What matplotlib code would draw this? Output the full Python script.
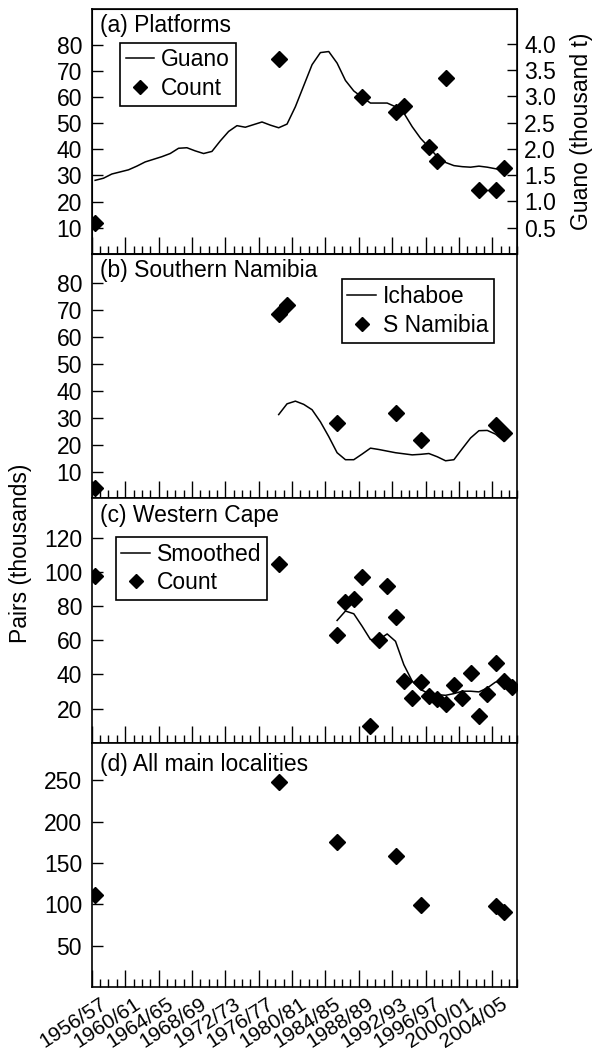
import numpy as np
import matplotlib
matplotlib.use("Agg")
import matplotlib.pyplot as plt
from matplotlib.ticker import MultipleLocator, FixedLocator
import matplotlib.transforms as mtransforms

plt.rcParams['font.family'] = ['Liberation Sans', 'DejaVu Sans']
plt.rcParams['font.size'] = 16.5

# season start years (1956 -> 1956/57)
guano_years = list(range(1956, 2006))
guano_kt = [1.40, 1.44, 1.52, 1.56, 1.60, 1.67, 1.75, 1.80, 1.85, 1.91,
            2.01, 2.02, 1.96, 1.91, 1.95, 2.15, 2.33, 2.44, 2.41, 2.46,
            2.51, 2.45, 2.40, 2.47, 2.80, 3.20, 3.60, 3.83, 3.85, 3.63,
            3.30, 3.10, 2.98, 2.87, 2.87, 2.87, 2.80, 2.68, 2.42, 2.20,
            2.03, 1.85, 1.74, 1.68, 1.66, 1.65, 1.67, 1.65, 1.62, 1.60]
plat_years = [1956, 1978, 1988, 1992, 1993, 1996, 1997, 1998, 2002, 2004, 2005]
plat_count = [11.8, 74.5, 59.9, 54.1, 56.7, 40.8, 35.7, 67.3, 24.6, 24.6, 32.9]

ich_years = list(range(1978, 2006))
ich_pairs = [31.2, 35.2, 36.2, 35.0, 33.0, 28.5, 23.0, 17.0, 14.4, 14.4,
             16.5, 18.7, 18.2, 17.6, 17.0, 16.6, 16.2, 16.4, 16.7, 15.5,
             14.0, 14.4, 18.5, 22.5, 25.2, 25.3, 23.9, 21.2]
snam_years = [1956, 1978, 1979, 1985, 1992, 1995, 2004, 2005]
snam_count = [3.8, 68.8, 71.9, 27.9, 31.8, 21.7, 27.4, 24.3]

wc_years = [1956, 1978, 1985, 1986, 1987, 1988, 1989, 1990, 1991, 1992,
            1993, 1994, 1995, 1996, 1997, 1998, 1999, 2000, 2001, 2002,
            2003, 2004, 2005, 2006]
wc_count = [97.8, 104.7, 62.9, 82.5, 84.3, 97.1, 9.6, 60.4, 92.0, 73.5,
            36.1, 26.2, 35.6, 27.2, 25.6, 22.7, 34.1, 26.2, 40.6, 15.5,
            28.6, 46.8, 36.1, 32.7]
smooth_years = list(range(1985, 2007))
smooth_pairs = [71.6, 77.1, 75.5, 68.2, 60.4, 60.4, 63.7, 59.4, 45.7, 36.1,
                31.2, 28.8, 28.2, 27.8, 28.8, 30.2, 30.2, 29.8, 32.1, 35.6,
                36.1, 34.5]

all_years = [1956, 1978, 1985, 1992, 1995, 2004, 2005]
all_count = [111.3, 247.5, 175.2, 158.0, 99.6, 98.4, 91.0]

tick_years = list(range(1956, 2005, 4))
tick_labels = ["%d/%02d" % (y, (y + 1) % 100) for y in tick_years]

OFF = 0.4  # season plotted a bit after its start year


def xs(years):
    return np.array(years) + OFF


fig = plt.figure(figsize=(5.96, 10.53), dpi=100)
fig.subplots_adjust(left=0.154, right=0.868, top=0.991, bottom=0.0624, hspace=0)
axes = fig.subplots(4, 1, sharex=True)

mk = dict(marker='D', color='black', linestyle='none', markersize=8)
ln = dict(color='black', linewidth=1.1)
leg_kw = dict(loc='upper left', borderaxespad=0, fancybox=False, edgecolor='black',
              framealpha=1, handlelength=1.25, handletextpad=0.3, borderpad=0.25,
              labelspacing=0.25, markerscale=0.9)

for ax in axes:
    ax.set_xlim(1956, 2007)
    ax.xaxis.set_major_locator(FixedLocator(tick_years))
    ax.xaxis.set_minor_locator(MultipleLocator(1))
    ax.tick_params(axis='x', which='major', direction='in', length=12, width=1, pad=5)
    ax.tick_params(axis='x', which='minor', direction='in', length=6, width=1)
    ax.tick_params(axis='y', which='major', direction='in', length=8, width=1, pad=7)
    for s in ax.spines.values():
        s.set_linewidth(1.2)

# (a) Platforms
ax = axes[0]
ax2 = ax.twinx()
l1, = ax2.plot(xs(guano_years), guano_kt, label='Guano', **ln)
p1, = ax.plot(xs(plat_years), plat_count, label='Count', **mk)
ax.set_ylim(0, 93.5)
ax2.set_ylim(0, 4.65)
ax.yaxis.set_major_locator(FixedLocator(range(10, 90, 10)))
ax2.yaxis.set_major_locator(FixedLocator(np.arange(0.5, 4.01, 0.5)))
ax2.yaxis.set_major_formatter(plt.FuncFormatter(lambda v, p: "%.1f" % v))
ax2.tick_params(axis='y', direction='in', length=7, width=1, pad=5)
ax2.set_ylabel('Guano (thousand t)', labelpad=10)
ax.text(0.02, 0.935, '(a) Platforms', transform=ax.transAxes, va='center', ha='left')
ax.legend([l1, p1], ['Guano', 'Count'], bbox_to_anchor=(0.066, 0.864),
          **leg_kw).get_frame().set_linewidth(1.2)

# (b) Southern Namibia
ax = axes[1]
ax.plot(xs(ich_years), ich_pairs, label='Ichaboe', **ln)
ax.plot(xs(snam_years), snam_count, label='S Namibia', **mk)
ax.set_ylim(0, 91)
ax.yaxis.set_major_locator(FixedLocator(range(10, 90, 10)))
ax.text(0.02, 0.932, '(b) Southern Namibia', transform=ax.transAxes, va='center', ha='left')
ax.legend(bbox_to_anchor=(0.587, 0.896), **leg_kw).get_frame().set_linewidth(1.2)

# (c) Western Cape
ax = axes[2]
ax.plot(xs(smooth_years), smooth_pairs, label='Smoothed', **ln)
ax.plot(xs(wc_years), wc_count, label='Count', **mk)
ax.set_ylim(0, 143)
ax.yaxis.set_major_locator(FixedLocator(range(20, 121, 20)))
ax.text(0.02, 0.931, '(c) Western Cape', transform=ax.transAxes, va='center', ha='left')
ax.legend(bbox_to_anchor=(0.056, 0.842), **leg_kw).get_frame().set_linewidth(1.2)

# (d) All main localities
ax = axes[3]
ax.plot(xs(all_years), all_count, **mk)
ax.set_ylim(0, 295)
ax.yaxis.set_major_locator(FixedLocator(range(50, 251, 50)))
ax.text(0.02, 0.912, '(d) All main localities', transform=ax.transAxes, va='center', ha='left')
ax.set_xticklabels(tick_labels)
shift = mtransforms.ScaledTranslation(8 / 100, 0, fig.dpi_scale_trans)
for lab in ax.get_xticklabels():
    lab.set_fontsize(15)
    lab.set_rotation(33)
    lab.set_ha('right')
    lab.set_va('top')
    lab.set_rotation_mode('anchor')
    lab.set_transform(lab.get_transform() + shift)

fig.text(0.035, 0.475, 'Pairs (thousands)', rotation=90, va='center', ha='center')

fig.savefig('out.png', dpi=100)
